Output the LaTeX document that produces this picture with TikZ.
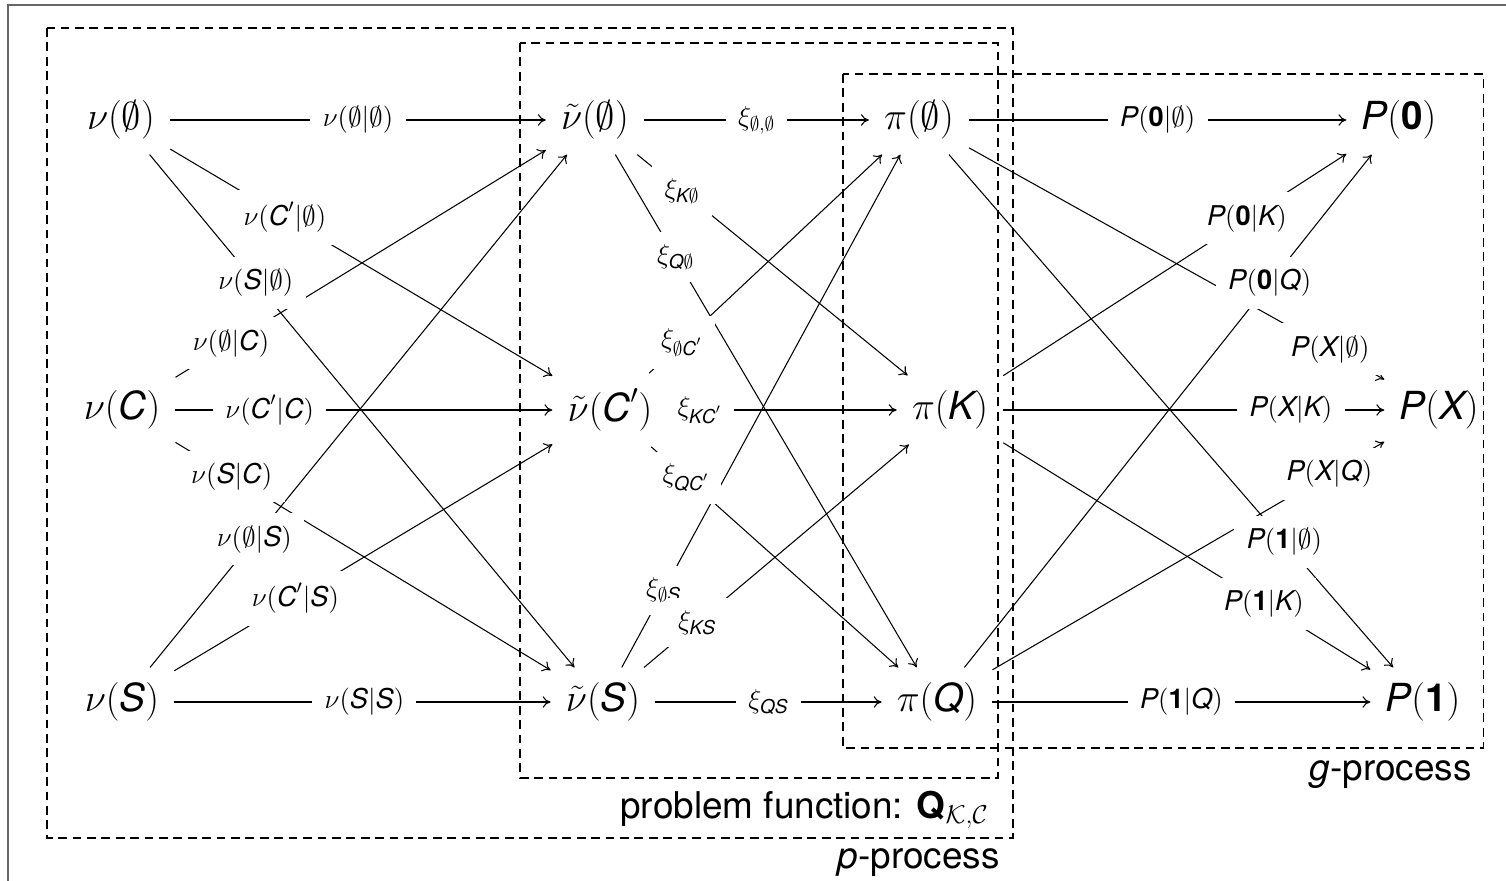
\RequirePackage{fix-cm}
\documentclass[tikz,border=0pt]{standalone}
\usepackage{amsmath}
\usepackage[no-math]{fontspec}
\setmainfont{TeX Gyre Heros}
\usetikzlibrary{arrows.meta}
\newcommand{\myC}{\textit{C}}
\newcommand{\myS}{\textit{S}}
\newcommand{\myK}{\textit{K}}
\newcommand{\myQ}{\textit{Q}}
\newcommand{\myP}{\textit{P}}
\newcommand{\myX}{\textit{X}}
\newcommand{\myzero}{\textbf{0}}
\newcommand{\myone}{\textbf{1}}
\begin{document}
\begin{tikzpicture}[x=0.02cm,y=-0.02cm,
  bignode/.style={font=\fontsize{22}{26}\selectfont, inner sep=8.5pt},
  lbl/.style={font=\fontsize{15.5}{18.5}\selectfont, fill=white, inner sep=7pt},
  conn/.style={line width=0.6pt, -{To[length=4.5pt,width=6.5pt]}},
  dbox/.style={line width=0.6pt, dash pattern=on 5pt off 3.2pt},
  boxtitle/.style={font=\fontsize{21}{25}\selectfont, inner sep=0pt}]
\useasboundingbox (0,0) rectangle (1506,881);
% outer frame
\draw[black!60, line width=1.1pt] (8,881) -- (8,5) -- (1506,5);
% dashed boxes
\draw[dbox] (47,28) rectangle (1013,838);
\draw[dbox] (520,43) rectangle (998,778);
\draw[dbox] (843,74) rectangle (1483,748);
\node[boxtitle, anchor=base east] (ptitle) at (1000,868) {\textit{p}-process};
\node[boxtitle, anchor=base east] (qtitle) at (989,818) {problem function: $\textbf{Q}_{\mathcal{K},\mathcal{C}}$};
\node[boxtitle, anchor=base east] (gtitle) at (1472,780) {\textit{g}-process};
% nodes
\node[bignode] (nu0) at (121,120) {$\nu(\emptyset)$};
\node[bignode] (nuC) at (122,410) {$\nu(\myC)$};
\node[bignode] (nuS) at (122,702) {$\nu(\myS)$};
\node[bignode] (nt0) at (595,120) {$\tilde\nu(\emptyset)$};
\node[bignode] (ntC) at (610,410) {$\tilde\nu(\myC')$};
\node[bignode] (ntS) at (603,702) {$\tilde\nu(\myS)$};
\node[bignode] (pi0) at (919,120) {$\pi(\emptyset)$};
\node[bignode] (piK) at (950,410) {$\pi(\myK)$};
\node[bignode] (piQ) at (937,702) {$\pi(\myQ)$};
\node[bignode] (P0) at (1399,120) {$\myP(\myzero)$};
\node[bignode] (PX) at (1439,410) {$\myP(\myX)$};
\node[bignode] (P1) at (1423,702) {$\myP(\myone)$};
% connectors
\foreach \a/\b in {nu0/nt0,nu0/ntC,nu0/ntS,nuC/nt0,nuC/ntC,nuC/ntS,nuS/nt0,nuS/ntC,nuS/ntS,
  nt0/pi0,nt0/piK,nt0/piQ,ntC/pi0,ntC/piK,ntC/piQ,ntS/pi0,ntS/piK,ntS/piQ,
  pi0/P0,pi0/PX,pi0/P1,piK/P0,piK/PX,piK/P1,piQ/P0,piQ/PX,piQ/P1}
  \draw[conn] (\a) -- (\b);
% labels on connectors
\path (nu0) -- node[lbl,pos=0.50] (l1) {$\nu(\emptyset|\emptyset)$} (nt0);
\path (nu0) -- node[lbl,pos=0.30] (l2) {$\nu(\myC'|\emptyset)$} (ntC);
\path (nu0) -- node[lbl,pos=0.25] (l3) {$\nu(\myS|\emptyset)$} (ntS);
\path (nuC) -- node[lbl,pos=0.15] (l4) {$\nu(\emptyset|\myC)$} (nt0);
\path (nuC) -- node[lbl,pos=0.25] (l5) {$\nu(\myC'|\myC)$} (ntC);
\path (nuC) -- node[lbl,pos=0.15] (l6) {$\nu(\myS|\myC)$} (ntS);
\path (nuS) -- node[lbl,pos=0.25] (l7) {$\nu(\emptyset|\myS)$} (nt0);
\path (nuS) -- node[lbl,pos=0.32] (l8) {$\nu(\myC'|\myS)$} (ntC);
\path (nuS) -- node[lbl,pos=0.505] (l9) {$\nu(\myS|\myS)$} (ntS);
\path (nt0) -- node[lbl,pos=0.50] (l10) {$\xi_{\emptyset,\emptyset}$} (pi0);
\path (nt0) -- node[lbl,pos=0.165] (l11) {$\xi_{\myK\emptyset}$} (piK);
\path (nt0) -- node[lbl,pos=0.20] (l12) {$\xi_{\myQ\emptyset}$} (piQ);
\path (ntC) -- node[lbl,pos=0.14] (l13) {$\xi_{\emptyset\myC'}$} (pi0);
\path (ntC) -- node[lbl,pos=0.14] (l14) {$\xi_{\myK\myC'}$} (piK);
\path (ntC) -- node[lbl,pos=0.14] (l15) {$\xi_{\myQ\myC'}$} (piQ);
\path (ntS) -- node[lbl,pos=0.15] (l16) {$\xi_{\emptyset\myS}$} (pi0);
\path (ntS) -- node[lbl,pos=0.20] (l17) {$\xi_{\myK\myS}$} (piK);
\path (ntS) -- node[lbl,pos=0.50] (l18) {$\xi_{\myQ\myS}$} (piQ);
\path (pi0) -- node[lbl,pos=0.50] (l19) {$\myP(\myzero|\emptyset)$} (P0);
\path (pi0) -- node[lbl,pos=0.87] (l20) {$\myP(\myX|\emptyset)$} (PX);
\path (pi0) -- node[lbl,pos=0.755] (l21) {$\myP(\myone|\emptyset)$} (P1);
\path (piK) -- node[lbl,pos=0.71] (l22) {$\myP(\myzero|\myK)$} (P0);
\path (piK) -- node[lbl,pos=0.755] (l23) {$\myP(\myX|\myK)$} (PX);
\path (piK) -- node[lbl,pos=0.71] (l24) {$\myP(\myone|\myK)$} (P1);
\path (piQ) -- node[lbl,pos=0.75] (l25) {$\myP(\myzero|\myQ)$} (P0);
\path (piQ) -- node[lbl,pos=0.86] (l26) {$\myP(\myX|\myQ)$} (PX);
\path (piQ) -- node[lbl,pos=0.50] (l27) {$\myP(\myone|\myQ)$} (P1);
\end{tikzpicture}
\end{document}
